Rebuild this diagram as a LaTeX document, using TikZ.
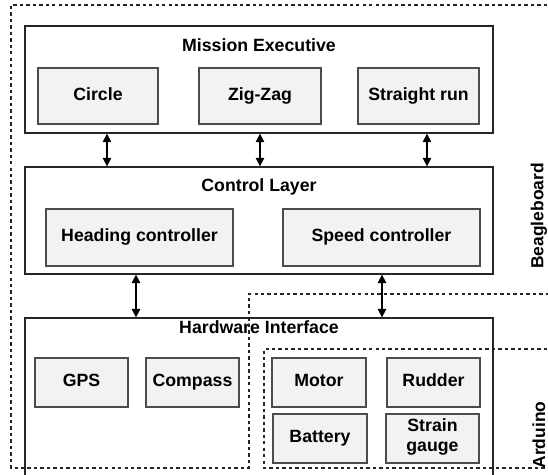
\documentclass[tikz,border=0pt]{standalone}
\usepackage{fontspec}
\setmainfont{Liberation Sans}
\usetikzlibrary{arrows.meta}

\tikzstyle{layerbox}=[draw=black!85, line width=0.9pt, inner sep=0pt, minimum width=11.7cm, minimum height=2.675cm]
\tikzstyle{partbox}=[draw=black!70, fill=black!5, line width=0.9pt, inner sep=0pt, minimum height=1.225cm, font=\fontsize{12.6}{15}\selectfont\bfseries, align=center, execute at begin node=\strut]
\tikzstyle{layertitle}=[font=\fontsize{12.6}{15}\selectfont\bfseries]
\tikzstyle{sidelabel}=[rotate=90, font=\fontsize{12.4}{14}\selectfont\bfseries]
\tikzstyle{biarrow}=[line width=1pt, {Triangle[length=6pt,width=6pt]}-{Triangle[length=6pt,width=6pt]}]
\tikzstyle{region}=[black!85, line width=0.9pt, dash pattern=on 2.4pt off 2.2pt]

\begin{document}
\begin{tikzpicture}[x=0.025cm, y=-0.025cm]
  \clip (0,0) rectangle (548,475);
  \fill[white] (0,0) rectangle (548,475);

  % mission executive
  \node[layerbox] (mission) at (259,79.5) {};
  \node[layertitle] (mtitle) at (259,45) {Mission Executive};
  \node[partbox, minimum width=3cm, minimum height=1.4cm] (circle) at (98,96) {Circle};
  \node[partbox, minimum width=3.05cm, minimum height=1.4cm] (zigzag) at (260,96) {Zig-Zag};
  \node[partbox, minimum width=3.025cm, minimum height=1.4cm] (straight) at (418.5,96) {Straight run};

  % control layer
  \node[layerbox] (control) at (259,220.5) {};
  \node[layertitle] (ctitle) at (259,187) {Control Layer};
  \node[partbox, minimum width=4.675cm, minimum height=1.425cm] (heading) at (139.5,237.5) {Heading controller};
  \node[partbox, minimum width=4.925cm, minimum height=1.425cm] (speed) at (381.5,237.5) {Speed controller};

  % hardware interface
  \node[layerbox, minimum height=4.3cm] (hardware) at (259,404) {};
  \node[layertitle] (htitle) at (259,327) {Hardware Interface};
  \node[partbox, minimum width=2.325cm] (gps) at (81.5,382.5) {GPS};
  \node[partbox, minimum width=2.325cm] (compass) at (192.5,382.5) {Compass};
  \node[partbox, minimum width=2.35cm] (motor) at (319,382.5) {Motor};
  \node[partbox, minimum width=2.325cm] (rudder) at (433.5,382.5) {Rudder};
  \node[partbox, minimum width=2.35cm] (battery) at (320,438.5) {Battery};
  \node[partbox, minimum width=2.325cm] (strain) at (432.5,438.5) {Strain\\[-1pt]gauge};

  % links between layers
  \draw[biarrow] (107,0 |- mission.south) -- (107,0 |- control.north);
  \draw[biarrow] (260,0 |- mission.south) -- (260,0 |- control.north);
  \draw[biarrow] (427,0 |- mission.south) -- (427,0 |- control.north);
  \draw[biarrow] (136,0 |- control.south) -- (136,0 |- hardware.north);
  \draw[biarrow] (382,0 |- control.south) -- (382,0 |- hardware.north);

  % boards
  \draw[region] (560,5) -- (11,5) -- (11,468) -- (249,468) -- (249,294) -- (560,294);
  \draw[region] (560,349) -- (264,349) -- (264,468) -- (560,468);
  \node[sidelabel] (beagle) at (539,216) {Beagleboard};
  \node[sidelabel] (arduino) at (539,435) {Arduino};
\end{tikzpicture}
\end{document}
